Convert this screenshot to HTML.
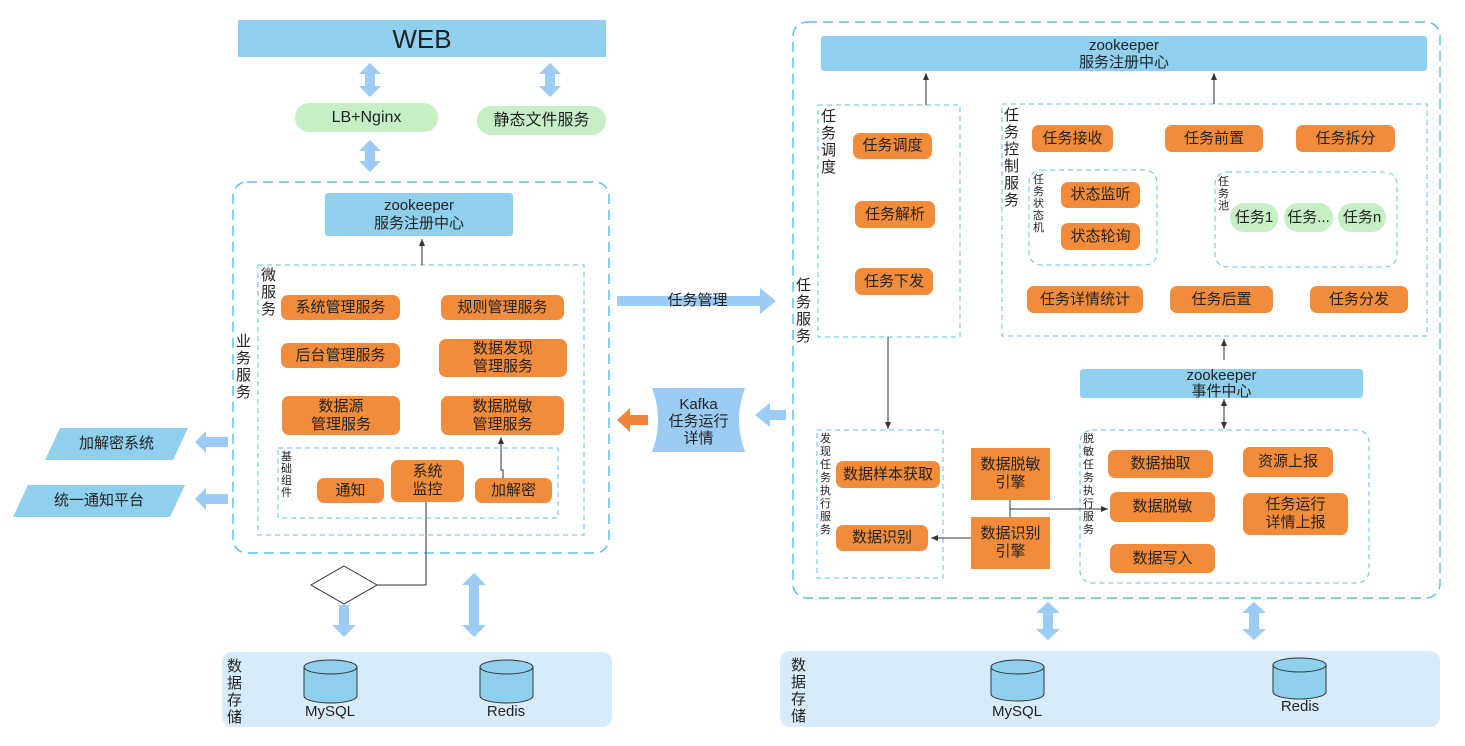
<!DOCTYPE html>
<html><head><meta charset="utf-8"><style>
body{margin:0;width:1465px;height:746px;background:#fff;position:relative;overflow:hidden;font-family:"Liberation Sans","Noto Sans CJK SC",sans-serif;color:#222}
.a{position:absolute;display:flex;align-items:center;justify-content:center;text-align:center;font-size:15px;line-height:18px;white-space:nowrap}
.o{background:#f28c3a;border-radius:7px}
.sq{background:#f28c3a}
.b{background:#8fd0ee}
.g{background:#c6efc6;border-radius:14px}
.v{position:absolute;width:16px;font-size:15px;line-height:17px;word-break:break-all;color:#222}
.vs{position:absolute;width:11px;font-size:11px;line-height:12px;word-break:break-all;color:#222}
svg{position:absolute;left:0;top:0}
</style></head><body>
<svg width="1465" height="746">
<defs><marker id="m" markerWidth="8" markerHeight="8" refX="7" refY="4" orient="auto"><path d="M0,1 L7,4 L0,7 Z" fill="#333"/></marker></defs>
<rect x="222" y="652" width="390" height="75" rx="10" fill="#d8ebfa"/>
<rect x="780" y="651" width="660" height="76" rx="10" fill="#d8ebfa"/>
<g fill="none" stroke="#5bc0f0" stroke-width="1.5" stroke-dasharray="10,6">
<rect x="233" y="182" width="376" height="371" rx="14"/>
<rect x="793" y="22" width="647" height="576" rx="14"/>
</g>
<g fill="none" stroke="#5bc0f0" stroke-width="1" stroke-dasharray="5,4">
<rect x="258" y="265" width="326" height="270"/>
<rect x="278" y="448" width="280" height="70"/>
<rect x="818" y="105" width="142" height="232"/>
<rect x="1002" y="104" width="425" height="232"/>
<rect x="1029" y="170" width="128" height="95" rx="12"/>
<rect x="1215" y="172" width="182" height="95" rx="12"/>
<rect x="817" y="430" width="126" height="148"/>
<rect x="1080" y="430" width="289" height="153" rx="12"/>
</g>
<g fill="#9ccbf3">
<polygon points="370,63 381,74 375,74 375,86 381,86 370,97 359,86 365,86 365,74 359,74"/>
<polygon points="550,63 561,74 555,74 555,86 561,86 550,97 539,86 545,86 545,74 539,74"/>
<polygon points="370,140 381,151 375,151 375,161 381,161 370,172 359,161 365,161 365,151 359,151"/>
<polygon points="474,573 486,585 479,585 479,625 486,625 474,637 462,625 469,625 469,585 462,585"/>
<polygon points="339,605 349,605 349,625 356,625 344,637 332,625 339,625"/>
<polygon points="1048,602 1060,613 1053,613 1053,629 1060,629 1048,640 1036,629 1043,629 1043,613 1036,613"/>
<polygon points="1254,602 1266,613 1259,613 1259,629 1266,629 1254,640 1242,629 1249,629 1249,613 1242,613"/>
<polygon points="228,437 206,437 206,431 195,442 206,453 206,447 228,447"/>
<polygon points="228,494 206,494 206,488 195,499 206,510 206,504 228,504"/>
<polygon points="617,296 760,296 760,288 776,301 760,314 760,306 617,306"/>
<polygon points="786,410 770,410 770,403 755,415 770,427 770,420 786,420"/>
<path d="M652,388 L745,388 Q733,420 745,452 L652,452 Q664,420 652,388 Z"/>
<polygon points="45,460 60,428 188,428 173,460" fill="#8fd0ee"/>
<polygon points="13,517 28,485 185,485 170,517" fill="#8fd0ee"/>
</g>
<polygon points="648,415 630,415 630,408 617,420 630,432 630,425 648,425" fill="#f0843a"/>
<polygon points="344,566 377,585 344,604 311,585" fill="#fff" stroke="#333"/>
<g stroke="#333" stroke-width="1" fill="none">
<line x1="422" y1="265" x2="422" y2="239" marker-end="url(#m)"/>
<polyline points="503,478 503,470 501,470 501,437" marker-end="url(#m)"/>
<polyline points="426,502 426,585 377,585"/>
<line x1="926" y1="105" x2="926" y2="73" marker-end="url(#m)"/>
<line x1="1214" y1="104" x2="1214" y2="73" marker-end="url(#m)"/>
<line x1="888" y1="337" x2="888" y2="429" marker-end="url(#m)"/>
<line x1="1224" y1="360" x2="1224" y2="339" marker-end="url(#m)"/>
<line x1="1224" y1="400" x2="1224" y2="429" marker-end="url(#m)"/>
<line x1="1224" y1="410" x2="1224" y2="399" marker-end="url(#m)"/>
<line x1="1010" y1="500" x2="1010" y2="517"/>
<line x1="1010" y1="509" x2="1108" y2="509" marker-end="url(#m)"/>
<line x1="971" y1="538" x2="931" y2="538" marker-end="url(#m)"/>
</g>
<g fill="#8fd0ee" stroke="#333" stroke-width="1">
<path d="M304,667 L304,696 A26.5,7 0 0 0 357,696 L357,667"/><ellipse cx="330.5" cy="667" rx="26.5" ry="7"/>
<path d="M480,667 L480,696 A26.5,7 0 0 0 533,696 L533,667"/><ellipse cx="506.5" cy="667" rx="26.5" ry="7"/>
<path d="M991,667 L991,694 A26.5,7 0 0 0 1044,694 L1044,667"/><ellipse cx="1017.5" cy="667" rx="26.5" ry="7"/>
<path d="M1273,665 L1273,692 A26.5,7 0 0 0 1326,692 L1326,665"/><ellipse cx="1299.5" cy="665" rx="26.5" ry="7"/>
</g>
</svg>

<div class="a b" style="left:238px;top:20px;width:368px;height:37px;font-size:26px">WEB</div>
<div class="a g" style="left:295px;top:103px;width:143px;height:29px;font-size:16px">LB+Nginx</div>
<div class="a g" style="left:477px;top:106px;width:129px;height:29px;font-size:16px">静态文件服务</div>
<div class="a b" style="left:325px;top:193px;width:188px;height:43px;border-radius:3px">zookeeper<br>服务注册中心</div>
<div class="v" style="left:261px;top:267px">微服务</div>
<div class="v" style="left:236px;top:333px">业务服务</div>
<div class="a o" style="left:281px;top:295px;width:119px;height:25px">系统管理服务</div>
<div class="a o" style="left:441px;top:295px;width:123px;height:25px">规则管理服务</div>
<div class="a o" style="left:281px;top:343px;width:119px;height:25px">后台管理服务</div>
<div class="a o" style="left:439px;top:339px;width:128px;height:38px">数据发现<br>管理服务</div>
<div class="a o" style="left:282px;top:396px;width:118px;height:39px">数据源<br>管理服务</div>
<div class="a o" style="left:441px;top:396px;width:123px;height:39px">数据脱敏<br>管理服务</div>
<div class="vs" style="left:281px;top:451px">基础组件</div>
<div class="a o" style="left:317px;top:478px;width:67px;height:25px">通知</div>
<div class="a o" style="left:391px;top:460px;width:73px;height:42px">系统<br>监控</div>
<div class="a o" style="left:475px;top:478px;width:77px;height:25px">加解密</div>
<div class="a" style="left:60px;top:428px;width:113px;height:32px">加解密系统</div>
<div class="a" style="left:28px;top:485px;width:142px;height:32px">统一通知平台</div>
<div class="v" style="left:227px;top:658px">数据存储</div>
<div class="a" style="left:300px;top:703px;width:60px;height:18px">MySQL</div>
<div class="a" style="left:476px;top:703px;width:60px;height:18px">Redis</div>
<div class="a" style="left:650px;top:292px;width:95px;height:18px">任务管理</div>
<div class="a" style="left:656px;top:392px;width:85px;height:58px;line-height:17px">Kafka<br>任务运行<br>详情</div>

<div class="a b" style="left:821px;top:36px;width:606px;height:35px;border-radius:3px;line-height:17px">zookeeper<br>服务注册中心</div>
<div class="v" style="left:796px;top:277px">任务服务</div>
<div class="v" style="left:821px;top:108px">任务调度</div>
<div class="a o" style="left:853px;top:133px;width:79px;height:26px">任务调度</div>
<div class="a o" style="left:855px;top:201px;width:80px;height:27px">任务解析</div>
<div class="a o" style="left:855px;top:268px;width:78px;height:27px">任务下发</div>
<div class="v" style="left:1004px;top:107px">任务控制服务</div>
<div class="a o" style="left:1032px;top:125px;width:81px;height:27px">任务接收</div>
<div class="a o" style="left:1165px;top:125px;width:98px;height:27px">任务前置</div>
<div class="a o" style="left:1296px;top:125px;width:99px;height:27px">任务拆分</div>
<div class="vs" style="left:1033px;top:174px">任务状态机</div>
<div class="a o" style="left:1061px;top:182px;width:79px;height:26px">状态监听</div>
<div class="a o" style="left:1061px;top:223px;width:79px;height:27px">状态轮询</div>
<div class="vs" style="left:1218px;top:176px">任务池</div>
<div class="a g" style="left:1230px;top:203px;width:48px;height:29px">任务1</div>
<div class="a g" style="left:1284px;top:203px;width:49px;height:29px">任务...</div>
<div class="a g" style="left:1338px;top:203px;width:48px;height:29px">任务n</div>
<div class="a o" style="left:1027px;top:286px;width:116px;height:27px">任务详情统计</div>
<div class="a o" style="left:1170px;top:286px;width:103px;height:27px">任务后置</div>
<div class="a o" style="left:1310px;top:286px;width:98px;height:27px">任务分发</div>
<div class="a b" style="left:1080px;top:369px;width:283px;height:29px;border-radius:3px;line-height:16px">zookeeper<br>事件中心</div>
<div class="vs" style="left:820px;top:433px;line-height:13px">发现任务执行服务</div>
<div class="a o" style="left:836px;top:461px;width:104px;height:27px">数据样本获取</div>
<div class="a o" style="left:836px;top:525px;width:92px;height:26px">数据识别</div>
<div class="a sq" style="left:971px;top:448px;width:79px;height:52px">数据脱敏<br>引擎</div>
<div class="a sq" style="left:971px;top:517px;width:79px;height:52px">数据识别<br>引擎</div>
<div class="vs" style="left:1083px;top:433px;line-height:13px">脱敏任务执行服务</div>
<div class="a o" style="left:1108px;top:450px;width:105px;height:28px">数据抽取</div>
<div class="a o" style="left:1110px;top:492px;width:105px;height:30px">数据脱敏</div>
<div class="a o" style="left:1110px;top:544px;width:105px;height:29px">数据写入</div>
<div class="a o" style="left:1243px;top:447px;width:90px;height:30px">资源上报</div>
<div class="a o" style="left:1243px;top:493px;width:105px;height:42px">任务运行<br>详情上报</div>
<div class="v" style="left:791px;top:657px">数据存储</div>
<div class="a" style="left:987px;top:703px;width:60px;height:18px">MySQL</div>
<div class="a" style="left:1270px;top:698px;width:60px;height:18px">Redis</div>
</body></html>
